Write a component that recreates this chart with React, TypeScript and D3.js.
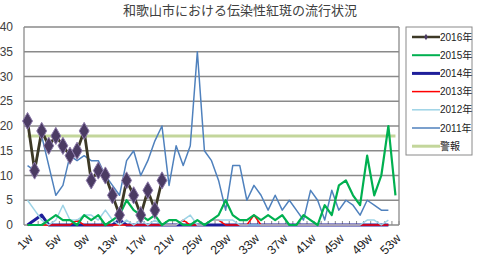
import React from "react";
import * as d3 from "d3";

// 週ラベル（カテゴリ）
const weeks = [
  "1w", "2w", "3w", "4w", "5w", "6w", "7w", "8w", "9w", "10w",
  "11w", "12w", "13w", "14w", "15w", "16w", "17w", "18w", "19w", "20w",
  "21w", "22w", "23w", "24w", "25w", "26w", "27w", "28w", "29w", "30w",
  "31w", "32w", "33w", "34w", "35w", "36w", "37w", "38w", "39w", "40w",
  "41w", "42w", "43w", "44w", "45w", "46w", "47w", "48w", "49w", "50w",
  "51w", "52w", "53w",
];
const weekTickLabels = ["1w", "5w", "9w", "13w", "17w", "21w", "25w", "29w", "33w", "37w", "41w", "45w", "49w", "53w"];
const yTicks = [0, 5, 10, 15, 20, 25, 30, 35, 40];

const y2016 = [21, 11, 19, 16, 18, 16, 14, 15, 19, 9, 11, 10, 6, 2, 9, 6, 2, 7, 3, 9];
const y2015 = [
  0, 0, 0, 1, 2, 1, 1, 0, 2, 1, 2, 0, 1, 2, 5, 3, 2, 1, 2, 0,
  1, 1, 0, 0, 1, 0, 1, 2, 5, 2, 1, 1, 2, 1, 2, 1, 2, 0, 0, 2,
  1, 0, 4, 2, 8, 9, 6, 4, 14, 6, 10, 20, 6,
];
const y2014 = [
  0, 1, 2, 0, 0, 0, 0, 0, 0, 0, 0, 0, 0, 1, 0, 0, 0, 0, 0, 0,
  0, 0, 0, 0, 0, 0, 0, 0, 0, 0, 0, 0, 0, 0, 0, 0, 0, 0, 0, 0,
  0, 0, 0, 0, 0, 0, 0, 0, 0, 0, 0, 0,
];
const y2013 = [
  0, 0, 0, 0, 0, 0, 0, 1, 0, 0, 0, 0, 0, 0, 0, 0, 0, 0, 0, 0,
  0, 0, 1, 0, 0, 0, 1, 1, 0, 0, 0, 0, 2, 0, 0, 0, 0, 0, 0, 0,
  0, 0, 0, 0, 0, 0, 0, 0, 0, 0, 0, 0,
];
const y2012 = [
  5, 3, 1, 0, 1, 4, 1, 1, 2, 2, 1, 3, 1, 0, 1, 0, 1, 0, 1, 0,
  0, 0, 1, 2, 0, 0, 1, 1, 1, 1, 0, 0, 0, 0, 0, 0, 0, 0, 0, 0,
  0, 0, 0, 0, 0, 0, 0, 0, 1, 1, 0, 1,
];
const y2011 = [
  12, 11, 18, 12, 6, 8, 14, 13, 14, 13, 13, 10, 8, 6, 13, 15, 10, 13, 17, 20,
  8, 16, 12, 16, 35, 15, 13, 9, 3, 12, 12, 5, 8, 6, 3, 6, 3, 5, 3, 1,
  7, 5, 1, 7, 3, 5, 4, 2, 5, 4, 3, 3,
];
const alertLevel = 18;

const W = 479;
const H = 259;
const plot = { left: 24, right: 399, top: 27, bottom: 225 };

const font = "'Liberation Sans', 'Noto Sans CJK JP', sans-serif";

const App = () => {
  const x = d3.scalePoint<string>().domain(weeks).range([plot.left, plot.right]).padding(0.5);
  const y = d3.scaleLinear().domain([0, 40]).range([plot.bottom, plot.top]);
  const step = x.step();

  const line = d3
    .line<number>()
    .x((d, i) => x(weeks[i]) as number)
    .y((d) => y(d));

  // 描画順：下から
  const series = [
    { name: "警報", values: weeks.map(() => alertLevel), color: "#c3d69b", width: 3 },
    { name: "2014年", values: y2014, color: "#1f1f9a", width: 3 },
    { name: "2013年", values: y2013, color: "#ff0000", width: 1.5 },
    { name: "2012年", values: y2012, color: "#9dd3e6", width: 1.5 },
    { name: "2011年", values: y2011, color: "#4f81bd", width: 1.5 },
    { name: "2015年", values: y2015, color: "#00b050", width: 2.2 },
    { name: "2016年", values: y2016, color: "#3d3926", width: 2.8 },
  ];

  const legendItems = [
    { name: "2016年", color: "#3d3926", width: 2.5, marker: true },
    { name: "2015年", color: "#00b050", width: 2 },
    { name: "2014年", color: "#1f1f9a", width: 3 },
    { name: "2013年", color: "#ff0000", width: 1.5 },
    { name: "2012年", color: "#9dd3e6", width: 1.5 },
    { name: "2011年", color: "#4f81bd", width: 1.5 },
    { name: "警報", color: "#c3d69b", width: 3 },
  ];

  const diamond = d3.symbol().type(d3.symbolDiamond).size(85);

  return (
    <svg
      width={W}
      height={H}
      style={{ position: "absolute", left: 0, top: 0, background: "#fff" }}
      fontFamily={font}
    >
      <text x={240} y={15} textAnchor="middle" fontSize={13} fill="#404040" fontFamily="'Noto Sans CJK JP', sans-serif">
        和歌山市における伝染性紅斑の流行状況
      </text>

      {/* grid */}
      {yTicks.map((t) => (
        <g key={t}>
          <line x1={plot.left} x2={plot.right} y1={y(t)} y2={y(t)} stroke="#8a8a8a" strokeWidth={1.3} />
          <text x={13} y={y(t)} dy="0.35em" textAnchor="end" fontSize={12} fill="#404040">
            {t}
          </text>
        </g>
      ))}
      <line x1={plot.left} x2={plot.left} y1={plot.top} y2={plot.bottom} stroke="#8a8a8a" strokeWidth={1.3} />
      <line x1={plot.right} x2={plot.right} y1={plot.top} y2={plot.bottom} stroke="#8a8a8a" strokeWidth={1.3} />

      {/* category ticks */}
      {weeks.map((w) => (
        <line
          key={w}
          x1={(x(w) as number) + step / 2}
          x2={(x(w) as number) + step / 2}
          y1={plot.bottom}
          y2={plot.bottom - 4}
          stroke="#8a8a8a"
          strokeWidth={1}
        />
      ))}
      {weekTickLabels.map((w) => (
        <text
          key={w}
          transform={`translate(${(x(w) as number) + 3},${plot.bottom + 11}) rotate(-45)`}
          textAnchor="end"
          dy="0.35em"
          fontSize={12.5}
          fill="#222"
        >
          {w}
        </text>
      ))}

      {/* series */}
      {series.map((s) => (
        <path
          key={s.name}
          d={line(s.values) || ""}
          fill="none"
          stroke={s.color}
          strokeWidth={s.width}
          strokeLinejoin="round"
        />
      ))}
      {y2016.map((v, i) => (
        <path
          key={i}
          d={diamond() || ""}
          transform={`translate(${x(weeks[i])},${y(v)})`}
          fill="#4b3b63"
          stroke="#8c7aaa"
          strokeWidth={1}
        />
      ))}

      {/* legend */}
      <rect x={406} y={27} width={66} height={128} fill="#fff" stroke="#8a8a8a" strokeWidth={1} />
      {legendItems.map((d, i) => {
        const ly = 37 + i * 18.2;
        return (
          <g key={d.name}>
            <line x1={412} x2={440} y1={ly} y2={ly} stroke={d.color} strokeWidth={d.width} />
            {d.marker && (
              <path d={d3.symbol().type(d3.symbolDiamond).size(12)() || ""} transform={`translate(426,${ly})`} fill="#4b3b63" />
            )}
            <text x={440} y={ly} dy="0.35em" fontSize={10} fill="#222">
              {d.name}
            </text>
          </g>
        );
      })}
    </svg>
  );
};

export default App;
